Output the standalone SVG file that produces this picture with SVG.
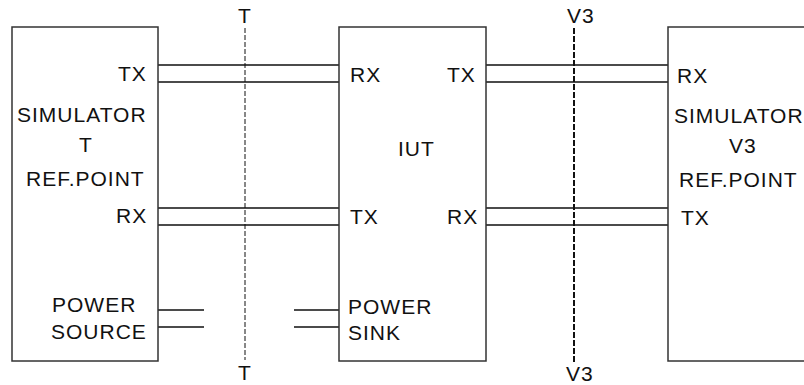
<svg xmlns="http://www.w3.org/2000/svg" width="804" height="385" viewBox="0 0 804 385">
<style>
.box{fill:#fff;stroke:#333;stroke-width:1.5}
.ln{stroke:#111;stroke-width:1.3;fill:none}
.t{font-family:"Liberation Sans",Arial,sans-serif;font-size:21px;letter-spacing:1px;fill:#111}
</style>
<rect width="804" height="385" fill="#fff"/>
<g id="connectors">
<path class="ln" d="M158 65H339M158 82H339M158 208H339M158 225H339"/>
<path class="ln" d="M486 65H668M486 82H668M486 208H668M486 225H668"/>
<path class="ln" d="M158 310H204M158 327H204M294 310H339M294 327H339"/>
<line x1="245" y1="28" x2="245" y2="360" stroke="#111" stroke-width="1" stroke-dasharray="5 2"/>
<line x1="574" y1="28" x2="574" y2="362" stroke="#111" stroke-width="2" stroke-dasharray="6 2"/>
</g>
<g id="simT">
<rect class="box" x="12" y="27" width="146" height="334"/>
<text class="t" x="118" y="81">TX</text>
<text class="t" x="17" y="122">SIMULATOR</text>
<text class="t" x="79" y="152">T</text>
<text class="t" x="26" y="186">REF.POINT</text>
<text class="t" x="116" y="223">RX</text>
<text class="t" x="52" y="312">POWER</text>
<text class="t" x="51" y="339">SOURCE</text>
</g>
<g id="iut">
<rect class="box" x="339" y="27" width="147" height="334"/>
<text class="t" x="350" y="82">RX</text>
<text class="t" x="447" y="82">TX</text>
<text class="t" x="398" y="156">IUT</text>
<text class="t" x="350" y="224">TX</text>
<text class="t" x="447" y="224">RX</text>
<text class="t" x="348" y="314">POWER</text>
<text class="t" x="348" y="340">SINK</text>
</g>
<g id="simV3">
<rect class="box" x="668" y="27" width="140" height="334"/>
<text class="t" x="677" y="83">RX</text>
<text class="t" x="674" y="123">SIMULATOR</text>
<text class="t" x="729" y="153">V3</text>
<text class="t" x="679" y="187">REF.POINT</text>
<text class="t" x="681" y="225">TX</text>
</g>
<g id="labels">
<text class="t" x="238" y="23">T</text>
<text class="t" x="238" y="380">T</text>
<text class="t" x="567" y="23">V3</text>
<text class="t" x="566" y="381">V3</text>
</g>
</svg>
